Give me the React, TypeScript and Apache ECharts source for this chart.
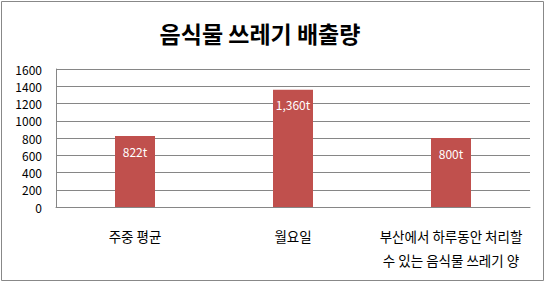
import React, { useEffect, useRef } from "react";
import * as echarts from "echarts";

const categories = ["주중 평균", "월요일", "부산에서 하루동안 처리할\n수 있는 음식물 쓰레기 양"];
const values = [822, 1360, 800];
const titleText = "음식물 쓰레기 배출량";

const FONT = "'Noto Sans CJK KR', 'Noto Sans', sans-serif";

export default function App() {
  const ref = useRef<HTMLDivElement>(null);
  useEffect(() => {
    if (!ref.current) return;
    const chart = echarts.init(ref.current, null, { renderer: "svg" });
    chart.setOption({
      animation: false,
      backgroundColor: "#ffffff",
      graphic: [
        {
          type: "rect",
          shape: { x: 1.5, y: 1.5, width: 542, height: 279 },
          style: { fill: "none", stroke: "#888888", lineWidth: 1 },
          silent: true,
        },
        {
          type: "text",
          x: 260,
          y: 33,
          style: {
            text: titleText,
            fontFamily: FONT,
            fontSize: 23,
            fontWeight: "bold",
            fill: "#000000",
            textAlign: "center",
            textVerticalAlign: "middle",
          },
        },
      ],
      grid: { left: 56, right: 17, top: 69, bottom: 76 },
      xAxis: {
        type: "category",
        data: categories,
        axisLine: { show: true, lineStyle: { color: "#868686", width: 1 } },
        axisTick: { show: false },
        axisLabel: {
          interval: 0,
          color: "#000000",
          fontFamily: FONT,
          fontSize: 13.5,
          margin: 17,
          lineHeight: 24,
        },
      },
      yAxis: {
        type: "value",
        min: 0,
        max: 1600,
        interval: 200,
        axisLine: { show: true, lineStyle: { color: "#868686", width: 1 } },
        axisTick: { show: false },
        splitLine: { show: true, lineStyle: { color: "#868686", width: 1 } },
        axisLabel: {
          color: "#000000",
          fontFamily: FONT,
          fontSize: 12,
          margin: 14,
          formatter: (v: number) => String(v),
        },
      },
      series: [
        {
          type: "bar",
          data: values,
          barWidth: 40,
          itemStyle: { color: "#C0504D" },
          label: {
            show: true,
            position: "insideTop",
            distance: 9,
            color: "#ffffff",
            fontFamily: FONT,
            fontSize: 12,
            formatter: (p: any) => Number(p.value).toLocaleString("en-US") + "t",
          },
        },
      ],
    });
    return () => chart.dispose();
  }, []);
  return (
    <div
      ref={ref}
      style={{ position: "fixed", left: 0, top: 0, width: 547, height: 283 }}
    />
  );
}
